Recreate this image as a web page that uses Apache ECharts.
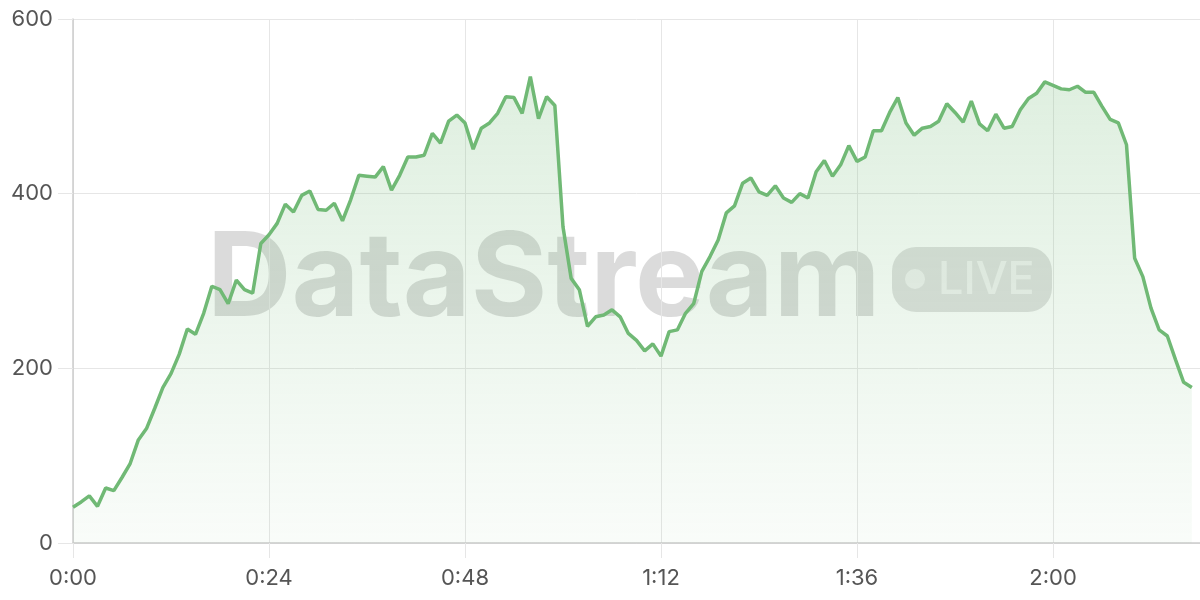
<!DOCTYPE html>
<html>
<head>
<meta charset="utf-8">
<script src="https://cdn.jsdelivr.net/npm/echarts@6/dist/echarts.min.js"></script>
<style>
html,body{margin:0;padding:0;background:#fff;}
#chart{width:1200px;height:600px;}
</style>
</head>
<body>
<div id="chart"></div>
<script>
// minutes since start (one sample per minute)
const minutes = [];
for (let m = 0; m <= 138; m++) minutes.push(m);

const values = [
  41, 47, 54, 42, 63, 60, 75, 91, 118, 131,
  154, 178, 194, 216, 245, 239, 263, 294, 290, 274,
  301, 290, 286, 343, 353, 366, 388, 379, 398, 403,
  382, 381, 389, 369, 393, 421, 420, 419, 431, 404,
  421, 442, 442, 444, 469, 458, 483, 490, 481, 451,
  475, 481, 492, 511, 510, 492, 534, 486, 511, 501,
  362, 303, 290, 248, 259, 261, 267, 259, 240, 232,
  220, 228, 214, 242, 244, 263, 274, 311, 328, 347,
  378, 386, 412, 418, 402, 398, 409, 395, 390, 400,
  395, 425, 438, 420, 433, 455, 437, 442, 472, 472,
  493, 510, 481, 467, 475, 477, 483, 503, 493, 482,
  506, 480, 472, 491, 475, 477, 496, 509, 515, 528,
  524, 520, 519, 523, 516, 516, 500, 485, 481, 456,
  326, 305, 269, 244, 237, 210, 184, 178
];

const yTicks = [0, 200, 400, 600];
const watermarkTitle = 'DataStream';
const watermarkBadge = 'LIVE';

function fmtTime(m) {
  const h = Math.floor(m / 60);
  const mm = m % 60;
  return h + ':' + (mm < 10 ? '0' + mm : mm);
}

const chart = echarts.init(document.getElementById('chart'));
chart.setOption({
  animation: false,
  grid: { left: 73, right: 0, top: 19, bottom: 57 },
  xAxis: {
    type: 'category',
    boundaryGap: false,
    data: minutes.map(fmtTime),
    axisLine: { lineStyle: { color: '#ccc', width: 1.5 } },
    axisTick: { show: true, length: 15, interval: 23, lineStyle: { color: '#e6e6e6' } },
    axisLabel: { interval: 23, color: '#555', fontSize: 22, margin: 24, fontFamily: 'Inter' },
    splitLine: { show: true, interval: 23, lineStyle: { color: '#e6e6e6' } }
  },
  yAxis: {
    type: 'value',
    min: yTicks[0],
    max: yTicks[yTicks.length - 1],
    interval: 200,
    axisLine: { show: true, lineStyle: { color: '#ccc', width: 1.5 } },
    axisTick: { show: true, length: 15, lineStyle: { color: '#e6e6e6' } },
    axisLabel: { color: '#555', fontSize: 22, margin: 20, fontFamily: 'Inter' },
    splitLine: { lineStyle: { color: '#e6e6e6' } }
  },
  graphic: [
    {
      type: 'text', z: -1,
      left: 207, top: 222,
      style: {
        text: watermarkTitle,
        font: 'bold 117px Inter',
        fill: 'rgba(0,0,0,0.14)'
      }
    },
    {
      type: 'rect', z: -1,
      shape: { x: 892, y: 247, width: 160, height: 65, r: 24 },
      style: { fill: 'rgba(0,0,0,0.12)' }
    },
    {
      type: 'circle', z: -1,
      shape: { cx: 915, cy: 279, r: 10 },
      style: { fill: 'rgba(255,255,255,0.55)' }
    },
    {
      type: 'text', z: -1,
      x: 938, y: 258,
      style: {
        text: watermarkBadge,
        font: '500 45px Inter',
        fill: 'rgba(255,255,255,0.55)'
      }
    }
  ],
  series: [{
    type: 'line',
    data: values,
    symbol: 'none',
    lineStyle: { color: '#70b975', width: 3.5 },
    areaStyle: {
      color: new echarts.graphic.LinearGradient(0, 0, 0, 1, [
        { offset: 0, color: 'rgba(112,185,117,0.32)' },
        { offset: 1, color: 'rgba(112,185,117,0.06)' }
      ])
    },
    z: 2
  }]
});
</script>
</body>
</html>
